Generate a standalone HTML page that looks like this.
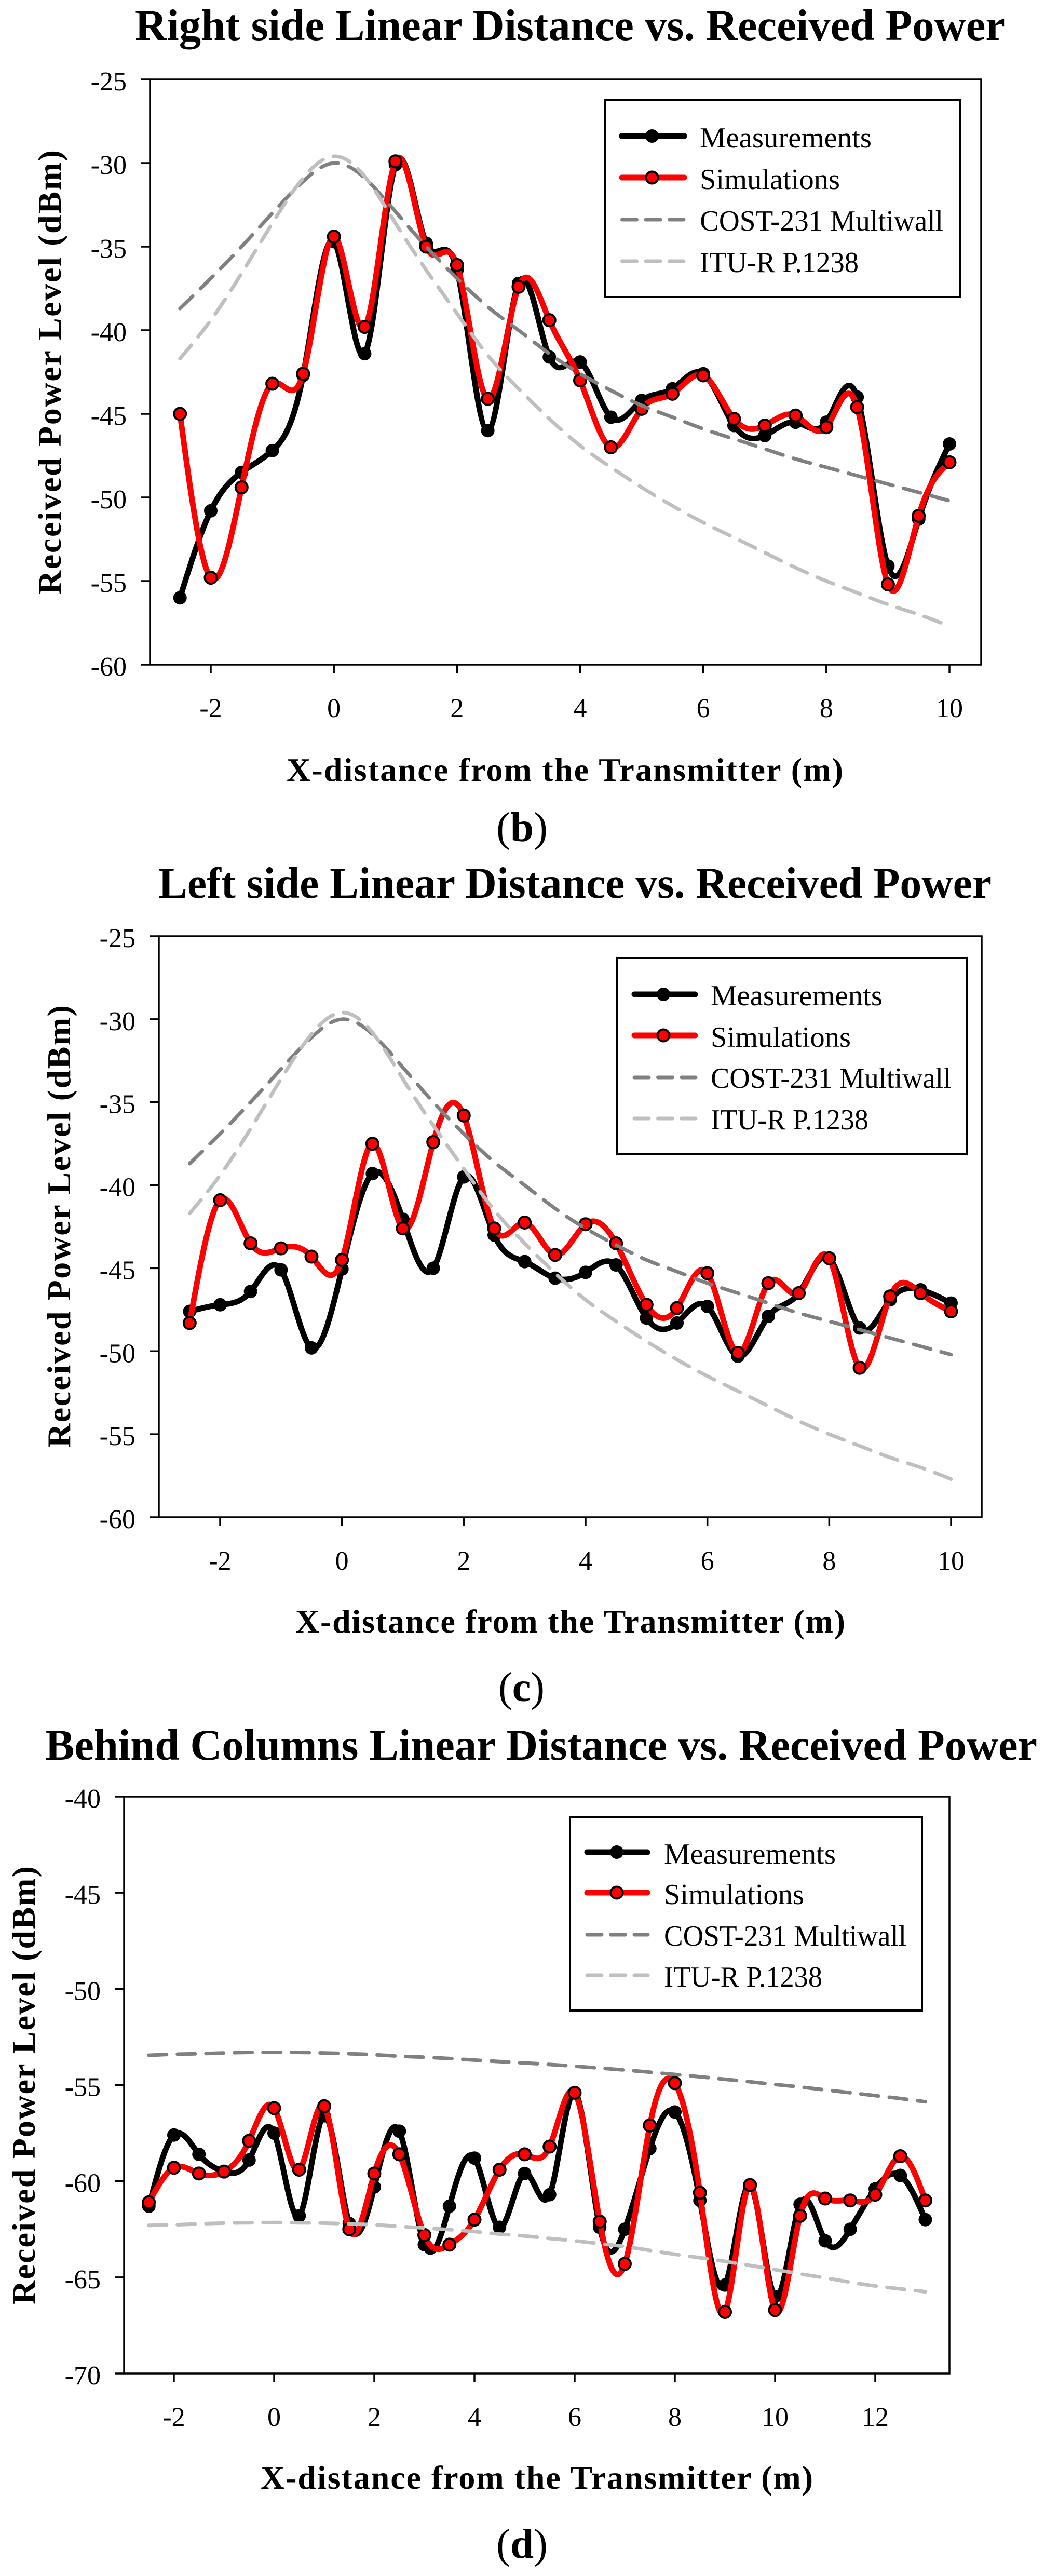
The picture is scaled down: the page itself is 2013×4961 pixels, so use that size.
<!DOCTYPE html>
<html lang="en">
<head>
<meta charset="utf-8">
<title>Linear Distance vs. Received Power</title>
<style>
html,body{margin:0;padding:0;background:#fff}
svg{display:block}
text{font-family:"Liberation Serif",serif;fill:#000}
.title{font-size:85px;font-weight:bold}
.axt{font-size:64px;font-weight:bold}
.leg{font-size:56px}
.cap{font-size:80px}
.ls{stroke-width:11;stroke-linecap:round}
.ld{stroke-width:7;stroke-linecap:round;stroke-dasharray:28 17.5}
</style>
</head>
<body>
<svg id="fig" xmlns="http://www.w3.org/2000/svg" width="2013" height="4961" viewBox="0 0 2013 4961">
<rect x="0" y="0" width="2013" height="4961" fill="#fff"/>

<g id="chart-b">
<text class="title" x="260" y="77" textLength="1676" lengthAdjust="spacingAndGlyphs">Right side Linear Distance vs. Received Power</text>
<text class="axt" x="552" y="1504" textLength="1072" lengthAdjust="spacing">X-distance from the Transmitter (m)</text>
<text class="axt" x="0" y="0" transform="translate(117 1145) rotate(-90)" textLength="856" lengthAdjust="spacing">Received Power Level (dBm)</text>
<g id="plot-b"></g>
<g>
<rect x="1166" y="193" width="683" height="379" fill="#fff" stroke="#000" stroke-width="4"/>
<g>
<line class="ls" x1="1198" x2="1318" y1="262" y2="262" stroke="#000"/><circle cx="1256" cy="262" r="13" fill="#000"/>
<text class="leg" x="1348" y="284" textLength="331" lengthAdjust="spacingAndGlyphs">Measurements</text></g>
<g>
<line class="ls" x1="1198" x2="1318" y1="342" y2="342" stroke="#f00"/><circle cx="1256" cy="342" r="11.5" fill="#f00" stroke="#000" stroke-width="4"/>
<text class="leg" x="1348" y="364" textLength="270" lengthAdjust="spacingAndGlyphs">Simulations</text></g>
<g>
<line class="ld" x1="1198.5" x2="1317" y1="423" y2="423" stroke="#808080"/>
<text class="leg" x="1348" y="444" textLength="469" lengthAdjust="spacingAndGlyphs">COST-231 Multiwall</text></g>
<g>
<line class="ld" x1="1198.5" x2="1317" y1="503" y2="503" stroke="#bfbfbf"/>
<text class="leg" x="1348" y="524" textLength="306" lengthAdjust="spacingAndGlyphs">ITU-R P.1238</text></g>
</g>
<text class="cap" x="956" y="1620" textLength="99" lengthAdjust="spacingAndGlyphs">(<tspan font-weight="bold">b</tspan>)</text>
</g>

<g id="chart-c">
<text class="title" x="305" y="1729" textLength="1605" lengthAdjust="spacingAndGlyphs">Left side Linear Distance vs. Received Power</text>
<text class="axt" x="569" y="3144" textLength="1059" lengthAdjust="spacing">X-distance from the Transmitter (m)</text>
<text class="axt" x="0" y="0" transform="translate(135 2788) rotate(-90)" textLength="852" lengthAdjust="spacing">Received Power Level (dBm)</text>
<g id="plot-c"></g>
<g>
<rect x="1188" y="1845" width="675" height="377" fill="#fff" stroke="#000" stroke-width="4"/>
<g>
<line class="ls" x1="1222" x2="1339" y1="1915" y2="1915" stroke="#000"/><circle cx="1278" cy="1915" r="13" fill="#000"/>
<text class="leg" x="1369" y="1936" textLength="331" lengthAdjust="spacingAndGlyphs">Measurements</text></g>
<g>
<line class="ls" x1="1222" x2="1339" y1="1994" y2="1994" stroke="#f00"/><circle cx="1278" cy="1994" r="11.5" fill="#f00" stroke="#000" stroke-width="4"/>
<text class="leg" x="1369" y="2016" textLength="270" lengthAdjust="spacingAndGlyphs">Simulations</text></g>
<g>
<line class="ld" x1="1222" x2="1340" y1="2075" y2="2075" stroke="#808080"/>
<text class="leg" x="1369" y="2095" textLength="463" lengthAdjust="spacingAndGlyphs">COST-231 Multiwall</text></g>
<g>
<line class="ld" x1="1222" x2="1340" y1="2154" y2="2154" stroke="#bfbfbf"/>
<text class="leg" x="1369" y="2175" textLength="304" lengthAdjust="spacingAndGlyphs">ITU-R P.1238</text></g>
</g>
<text class="cap" x="960" y="3276" textLength="89" lengthAdjust="spacingAndGlyphs">(<tspan font-weight="bold">c</tspan>)</text>
</g>

<g id="chart-d">
<text class="title" x="87" y="3389" textLength="1911" lengthAdjust="spacingAndGlyphs">Behind Columns Linear Distance vs. Received Power</text>
<text class="axt" x="502" y="4793" textLength="1064" lengthAdjust="spacing">X-distance from the Transmitter (m)</text>
<text class="axt" x="0" y="0" transform="translate(67 4438) rotate(-90)" textLength="844" lengthAdjust="spacing">Received Power Level (dBm)</text>
<g id="plot-d"></g>
<g>
<rect x="1098" y="3499" width="678" height="373" fill="#fff" stroke="#000" stroke-width="4"/>
<g>
<line class="ls" x1="1131" x2="1247" y1="3567" y2="3567" stroke="#000"/><circle cx="1188" cy="3567" r="13" fill="#000"/>
<text class="leg" x="1279" y="3589" textLength="331" lengthAdjust="spacingAndGlyphs">Measurements</text></g>
<g>
<line class="ls" x1="1131" x2="1247" y1="3645" y2="3645" stroke="#f00"/><circle cx="1188" cy="3645" r="11.5" fill="#f00" stroke="#000" stroke-width="4"/>
<text class="leg" x="1279" y="3667" textLength="270" lengthAdjust="spacingAndGlyphs">Simulations</text></g>
<g>
<line class="ld" x1="1131" x2="1248" y1="3726" y2="3726" stroke="#808080"/>
<text class="leg" x="1279" y="3747" textLength="467" lengthAdjust="spacingAndGlyphs">COST-231 Multiwall</text></g>
<g>
<line class="ld" x1="1131" x2="1248" y1="3804" y2="3804" stroke="#bfbfbf"/>
<text class="leg" x="1279" y="3826" textLength="305" lengthAdjust="spacingAndGlyphs">ITU-R P.1238</text></g>
</g>
<text class="cap" x="956" y="4926" textLength="99" lengthAdjust="spacingAndGlyphs">(<tspan font-weight="bold">d</tspan>)</text>
</g>
</svg>

<script>
// Shared x categories
var xB = [-2.5,-2,-1.5,-1,-0.5,0,0.5,1,1.5,2,2.5,3,3.5,4,4.5,5,5.5,6,6.5,7,7.5,8,8.5,9,9.5,10];
var xC = [-2.5,-2,-1.5,-1,-0.5,0,0.5,1,1.5,2,2.5,3,3.5,4,4.5,5,5.5,6,6.5,7,7.5,8,8.5,9,9.5,10];
var xD = [-2.5,-2,-1.5,-1,-0.5,0,0.5,1,1.5,2,2.5,3,3.5,4,4.5,5,5.5,6,6.5,7,7.5,8,8.5,9,9.5,10,10.5,11,11.5,12,12.5,13];

// Chart b: right side
var measB = [-56,-50.8,-48.5,-47.2,-42.7,-34.7,-41.4,-30.1,-34.8,-36.4,-46,-37.2,-41.6,-41.9,-45.2,-44.2,-43.5,-42.6,-45.7,-46.3,-45.5,-45.5,-44,-54.1,-51.3,-46.8];
var simB = [-45,-54.8,-49.4,-43.2,-42.6,-34.4,-39.8,-29.9,-35,-36.1,-44.1,-37.4,-39.4,-43,-47,-44.7,-43.8,-42.7,-45.3,-45.7,-45.1,-45.8,-44.6,-55.2,-51.1,-47.9];
var costB = [-38.7,-36.9,-35,-33,-31.1,-30,-30.9,-32.9,-35,-36.9,-38.6,-40,-41.4,-42.6,-43.6,-44.5,-45.2,-45.9,-46.5,-47.1,-47.7,-48.2,-48.7,-49.2,-49.7,-50.2];
var ituB = [-41.7,-39.4,-36.6,-33.6,-30.9,-29.6,-30.8,-33.6,-36.4,-39,-41.5,-43.5,-45.3,-46.9,-48.2,-49.4,-50.5,-51.5,-52.4,-53.3,-54.2,-55,-55.7,-56.4,-57,-57.7];
var xTicksB = [-2,0,2,4,6,8,10];
var yTicksB = [-25,-30,-35,-40,-45,-50,-55,-60];

// Chart c: left side
var measC = [-47.6,-47.2,-46.4,-45.1,-49.8,-45.05,-39.3,-42.05,-45,-39.5,-43,-44.6,-45.6,-45.25,-44.8,-48,-48.3,-47.3,-50.3,-47.9,-46.5,-44.4,-48.6,-46.9,-46.3,-47.1];
var simC = [-48.3,-40.9,-43.5,-43.8,-44.3,-44.5,-37.5,-42.6,-37.4,-35.8,-42.6,-42.25,-44.2,-42.35,-43.5,-47.2,-47.4,-45.3,-50.1,-45.9,-46.5,-44.4,-51,-46.7,-46.5,-47.6];
var costC = [-38.7,-36.9,-35,-33,-31.1,-30,-30.9,-32.9,-35,-36.9,-38.6,-40,-41.4,-42.6,-43.6,-44.5,-45.2,-45.9,-46.5,-47.1,-47.7,-48.2,-48.7,-49.2,-49.7,-50.2];
var ituC = [-41.7,-39.4,-36.6,-33.6,-30.9,-29.6,-30.8,-33.6,-36.4,-39,-41.5,-43.5,-45.3,-46.9,-48.2,-49.4,-50.5,-51.5,-52.4,-53.3,-54.2,-55,-55.7,-56.4,-57,-57.7];
var xTicksC = [-2,0,2,4,6,8,10];
var yTicksC = [-25,-30,-35,-40,-45,-50,-55,-60];

// Chart d: behind columns
var measD = [-61.3,-57.6,-58.6,-59.5,-58.9,-57.5,-61.8,-56.6,-62.2,-60.3,-57.4,-63.3,-61.3,-58.8,-62.4,-59.6,-60.7,-55.4,-62.4,-62.5,-58.3,-56.4,-61,-65.4,-60.2,-66,-61.2,-63.1,-62.5,-60.4,-59.7,-62];
var simD = [-61.1,-59.3,-59.6,-59.5,-57.9,-56.2,-59.4,-56.1,-62.5,-59.6,-58.6,-62.8,-63.3,-62,-59.4,-58.6,-58.2,-55.4,-62.1,-64.3,-57.1,-54.9,-60.6,-66.8,-60.2,-66.7,-61.8,-60.9,-61,-60.7,-58.7,-61];
var costD = [-53.45,-53.4,-53.37,-53.33,-53.3,-53.3,-53.3,-53.33,-53.37,-53.42,-53.5,-53.55,-53.62,-53.7,-53.78,-53.85,-53.93,-54.02,-54.12,-54.22,-54.33,-54.45,-54.57,-54.7,-54.83,-54.97,-55.1,-55.25,-55.4,-55.55,-55.7,-55.87];
var ituD = [-62.3,-62.27,-62.22,-62.18,-62.16,-62.15,-62.16,-62.18,-62.22,-62.27,-62.35,-62.43,-62.52,-62.62,-62.75,-62.85,-62.98,-63.1,-63.25,-63.4,-63.6,-63.8,-63.98,-64.17,-64.38,-64.6,-64.82,-65.03,-65.25,-65.45,-65.6,-65.75];
var xTicksD = [-2,0,2,4,6,8,10,12];
var yTicksD = [-40,-45,-50,-55,-60,-65,-70];

var NS = 'http://www.w3.org/2000/svg';

function mk(parent, tag, attrs) {
  var el = document.createElementNS(NS, tag);
  for (var k in attrs) el.setAttribute(k, attrs[k]);
  parent.appendChild(el);
  return el;
}

// Natural cubic spline slopes for the smoothed SigmaPlot-style curves
function splineSlopes(xs, ys) {
  var n = xs.length, a = [], b = [], c = [], d = [], i;
  for (i = 0; i < n; i++) {
    if (i === 0) {
      var h0 = xs[1] - xs[0];
      a[i] = 0; b[i] = 2 / h0; c[i] = 1 / h0; d[i] = 3 * (ys[1] - ys[0]) / (h0 * h0);
    } else if (i === n - 1) {
      var hl = xs[i] - xs[i - 1];
      a[i] = 1 / hl; b[i] = 2 / hl; c[i] = 0; d[i] = 3 * (ys[i] - ys[i - 1]) / (hl * hl);
    } else {
      var h1 = xs[i] - xs[i - 1], h2 = xs[i + 1] - xs[i];
      a[i] = 1 / h1; b[i] = 2 / h1 + 2 / h2; c[i] = 1 / h2;
      d[i] = 3 * ((ys[i] - ys[i - 1]) / (h1 * h1) + (ys[i + 1] - ys[i]) / (h2 * h2));
    }
  }
  for (i = 1; i < n; i++) {
    var m = a[i] / b[i - 1];
    b[i] -= m * c[i - 1];
    d[i] -= m * d[i - 1];
  }
  var s = [];
  s[n - 1] = d[n - 1] / b[n - 1];
  for (i = n - 2; i >= 0; i--) s[i] = (d[i] - c[i] * s[i + 1]) / b[i];
  return s;
}

function splinePath(xs, ys, sx, sy) {
  var s = splineSlopes(xs, ys);
  var p = 'M' + sx(xs[0]).toFixed(1) + ' ' + sy(ys[0]).toFixed(1);
  for (var i = 0; i < xs.length - 1; i++) {
    var h = xs[i + 1] - xs[i];
    p += 'C' + sx(xs[i] + h / 3).toFixed(1) + ' ' + sy(ys[i] + s[i] * h / 3).toFixed(1) +
      ' ' + sx(xs[i + 1] - h / 3).toFixed(1) + ' ' + sy(ys[i + 1] - s[i + 1] * h / 3).toFixed(1) +
      ' ' + sx(xs[i + 1]).toFixed(1) + ' ' + sy(ys[i + 1]).toFixed(1);
  }
  return p;
}

function drawChart(id, box, xs, meas, sim, cost, itu, xTicks, yTicks) {
  var root = document.getElementById(id);
  var yMax = yTicks[0], yMin = yTicks[yTicks.length - 1];
  var x0 = xTicks[0], x1 = xTicks[xTicks.length - 1];
  function sx(v) { return box.xa + (v - x0) / (x1 - x0) * (box.xb - box.xa); }
  function sy(v) { return box.top + (v - yMax) / (yMin - yMax) * (box.bottom - box.top); }

  var frame = mk(root, 'rect', {x: box.left, y: box.top, width: box.right - box.left, height: box.bottom - box.top, fill: 'none', stroke: '#000', 'stroke-width': 3.5});
  
  

  yTicks.forEach(function (t) {
    var tick = mk(root, 'line', {x1: box.left - 17, x2: box.left, y1: sy(t), y2: sy(t), stroke: '#000', 'stroke-width': 3.5});
    
    
    var lab = mk(root, 'text', {'text-anchor': 'end', 'font-size': 52, x: box.left - 45, y: sy(t) + 21});
    
    
    lab.textContent = String(t);
  });
  xTicks.forEach(function (t) {
    var tick = mk(root, 'line', {x1: sx(t), x2: sx(t), y1: box.bottom, y2: box.bottom + 17, stroke: '#000', 'stroke-width': 3.5});
    
    
    var lab = mk(root, 'text', {'text-anchor': 'middle', 'font-size': 52, x: sx(t), y: box.bottom + 101});
    
    
    lab.textContent = String(t);
  });

  var lineMeas = mk(root, 'path', {d: splinePath(xs, meas, sx, sy), fill: 'none', stroke: '#000', 'stroke-width': 11, 'stroke-linejoin': 'round'});
  
  
  meas.forEach(function (v, i) {
    var pt = mk(root, 'circle', {cx: sx(xs[i]), cy: sy(v), r: 13, fill: '#000'});
    
    
  });

  var lineSim = mk(root, 'path', {d: splinePath(xs, sim, sx, sy), fill: 'none', stroke: '#f00', 'stroke-width': 11, 'stroke-linejoin': 'round'});
  
  
  sim.forEach(function (v, i) {
    var pt = mk(root, 'circle', {cx: sx(xs[i]), cy: sy(v), r: 11.5, fill: '#f00', stroke: '#000', 'stroke-width': 4});
    
    
  });

  var lineCost = mk(root, 'path', {d: splinePath(xs, cost, sx, sy), fill: 'none', stroke: '#808080', 'stroke-width': 7, 'stroke-linecap': 'round', 'stroke-dasharray': '34 21'});
  
  

  var lineItu = mk(root, 'path', {d: splinePath(xs, itu, sx, sy), fill: 'none', stroke: '#bfbfbf', 'stroke-width': 7, 'stroke-linecap': 'round', 'stroke-dasharray': '34 21'});
  
  
}

drawChart('plot-b', {left: 289, right: 1890, top: 153, bottom: 1280, xa: 406, xb: 1829}, xB, measB, simB, costB, ituB, xTicksB, yTicksB);
drawChart('plot-c', {left: 306, right: 1891, top: 1803, bottom: 2922, xa: 424, xb: 1832}, xC, measC, simC, costC, ituC, xTicksC, yTicksC);
drawChart('plot-d', {left: 239, right: 1829, top: 3460, bottom: 4571, xa: 335, xb: 1686}, xD, measD, simD, costD, ituD, xTicksD, yTicksD);
</script>
</body>
</html>
